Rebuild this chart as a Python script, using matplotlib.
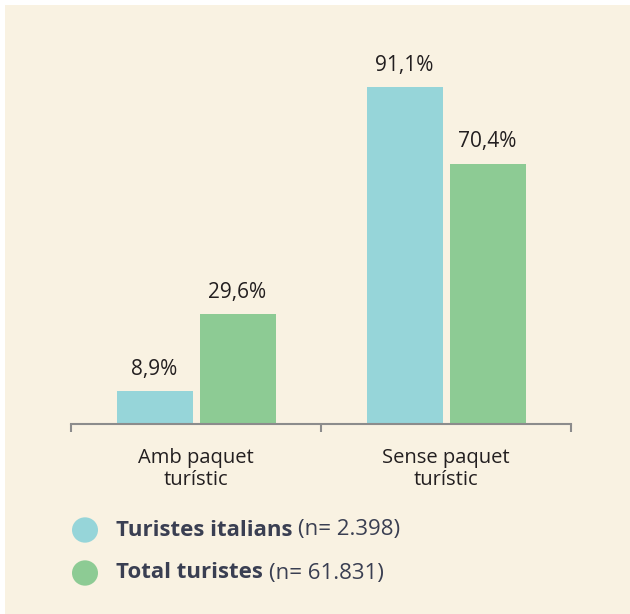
import matplotlib.pyplot as plt
from matplotlib.patches import Rectangle, Circle
import numpy as np

# values
categories = ["Amb paquet\nturístic", "Sense paquet\nturístic"]
italians = [8.9, 91.1]
total = [29.6, 70.4]
series_names = ["Turistes italians", "Total turistes"]
series_n = ["(n= 2.398)", "(n= 61.831)"]

bg = "#F9F2E2"
c_it = "#96D5D9"
c_tot = "#8DCB94"
txt = "#231F20"
leg_txt = "#3A3F52"

plt.rcParams['font.family'] = ['Open Sans', 'DejaVu Sans']

fig = plt.figure(figsize=(6.30, 6.14), dpi=100, facecolor="white")
fig.patches.append(Rectangle((5 / 630, 0), 1, 1 - 5 / 614, transform=fig.transFigure,
                             facecolor=bg, edgecolor="none", zorder=-10))

ax = fig.add_axes([71 / 630, (614 - 424) / 614, 500 / 630, 370 / 614])
ax.set_facecolor("none")

x = np.array([0.5, 1.5])
w = 0.304
off = 0.166
b1 = ax.bar(x - off, italians, w, color=c_it)
b2 = ax.bar(x + off, total, w, color=c_tot)

for bars, vals in [(b1, italians), (b2, total)]:
    for b, v in zip(bars, vals):
        ax.text(b.get_x() + b.get_width() / 2, v + 3.0, f"{v:.1f}%".replace(".", ","),
                ha="center", va="bottom", fontsize=15, color=txt)

ax.set_xlim(0, 2)
ax.set_ylim(0, 100)
ax.set_yticks([])
for s in ["top", "right", "left"]:
    ax.spines[s].set_visible(False)
ax.spines["bottom"].set_color("#8C8C8C")
ax.spines["bottom"].set_linewidth(1.5)
ax.set_xticks([0, 1, 2])
ax.set_xticklabels([])
ax.tick_params(axis="x", length=6, width=1.5, color="#8C8C8C", direction="out")
ax.set_xticks(x, minor=True)
ax.set_xticklabels(categories, minor=True, fontsize=14.5, color=txt, linespacing=1.15)
ax.tick_params(axis="x", which="minor", length=0, pad=17)

# legend drawn by hand
for i, (name, n, col) in enumerate(zip(series_names, series_n, [c_it, c_tot])):
    yy = 1 - (530 + 43 * i) / 614
    fig.patches.append(Circle((85 / 630, yy), 13 / 630, transform=fig.transFigure,
                              facecolor=col, edgecolor="none"))
    t = fig.text(116 / 630, yy, name, fontsize=16, fontweight="bold",
                 color=leg_txt, va="center", ha="left")
    fig.canvas.draw()
    bb = t.get_window_extent()
    fig.text(bb.x1 / 630 + 6 / 630, yy, n, fontsize=16, color=leg_txt,
             va="center", ha="left")

fig.savefig("out.png", dpi=100, facecolor="white")
